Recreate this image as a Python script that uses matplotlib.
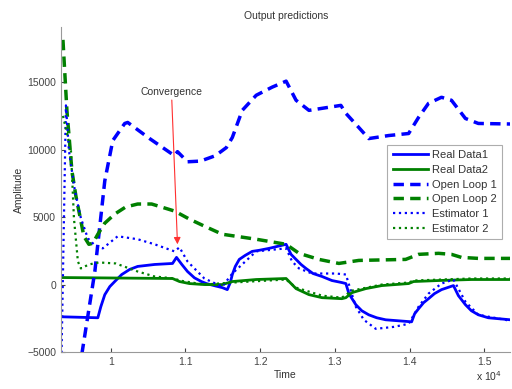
import matplotlib
matplotlib.use("Agg")
import matplotlib.pyplot as plt

plt.rcParams['font.family'] = ['Liberation Sans', 'DejaVu Sans']

# ---- data ----
ol1_t = [9613, 9787, 9920, 10027, 10187, 10227, 10520, 10853, 10893, 11027, 11200, 11400, 11547, 11627,
         11760, 11947, 12160, 12347, 12480, 12653, 12827, 13080, 13147, 13320, 13453, 13720, 13987,
         14120, 14253, 14427, 14560, 14747, 14920, 15350]
ol1_y = [-5150, 970, 7687, 10672, 11940, 12015, 10820, 9550, 9850, 9100, 9150, 9550, 10150, 10900,
         12910, 14030, 14630, 15075, 13660, 12910, 13060, 13280, 12690, 11640, 10820, 11045, 11195,
         12390, 13430, 13880, 13660, 12310, 11940, 11900]

ol2_t = [9360, 9413, 9480, 9533, 9587, 9640, 9707, 9760, 9827, 9920, 10053, 10200, 10360, 10547, 10853,
         11053, 11253, 11493, 11947, 12347, 12520, 12787, 13053, 13320, 13947, 14120, 14387, 14560,
         14693, 14920, 15350]
ol2_y = [18135, 12910, 8430, 6570, 5075, 3580, 2985, 3060, 3730, 4550, 5225, 5750, 5970, 5970, 5450,
         4850, 4330, 3730, 3360, 2985, 2315, 1865, 1567, 1790, 1865, 2240, 2315, 2240,
         2015, 1940, 1940]

rd1_t = [9360, 9827, 9867, 9920, 9987, 10053, 10147, 10253, 10360, 10587, 10827, 10880, 10950,
         11027, 11120, 11213, 11280, 11400, 11493, 11560, 11600, 11627, 11667, 11720, 11800, 11893,
         11987, 12120, 12347, 12413, 12480, 12547, 12613, 12707, 12827, 12960, 13093, 13147, 13187,
         13280, 13360, 13453, 13560, 13680, 13853, 14027, 14067, 14120, 14187, 14253, 14333, 14427,
         14587, 14653, 14747, 14827, 14920, 15053, 15350]
rd1_y = [-2390, -2460, -1640, -750, -150, 225, 745, 1120, 1345, 1490, 1565, 2015, 1500,
         970, 500, 225, 75, -100, -225, -375, 150, 745, 1345, 1865, 2165, 2460,
         2540, 2685, 2985, 2240, 1865, 1490, 1195, 820, 600, 300, 150, 75, -670,
         -1490, -1940, -2240, -2460, -2610, -2685, -2760, -2165, -1790, -1343, -1045, -670, -375,
         -75, -820, -1490, -1940, -2240, -2460, -2610]

rd2_t = [9360, 10827, 10920, 11053, 11253, 11493, 11627, 11947, 12347, 12480, 12653, 12827, 13093,
         13147, 13227, 13413, 13627, 13987, 14053, 14387, 14827, 15350]
rd2_y = [520, 450, 225, 75, 0, 0, 225, 375, 450, -300, -745, -970, -1045,
         -970, -600, -300, -75, 75, 225, 300, 375, 375]

es1_t = [9340, 9400, 9440, 9520, 9600, 9693, 9800, 9893, 9960, 10093, 10360, 10587, 10853, 10920,
         11027, 11253, 11493, 11627, 11947, 12347, 12427, 12520, 12693, 13013, 13147, 13280, 13387,
         13547, 13787, 13987, 14120, 14253, 14427, 14587, 14747, 14920, 15350]
es1_y = [-5500, 13280, 9925, 6940, 4925, 3430, 2835, 2685, 2985, 3580, 3360, 2985, 2460, 2760,
         1715, 450, -150, 820, 2460, 2685, 1715, 1195, 820, 820, 745, -1640, -2610,
         -3280, -3135, -2910, -1640, -670, 75, 375, -1270, -2240, -2685]

es2_t = [9360, 9467, 9507, 9560, 9600, 9707, 9840, 10067, 10360, 10587, 10853, 10920, 11253,
         11627, 12347, 12480, 12827, 13093, 13227, 13627, 13987, 14053, 14827, 15350]
es2_y = [12500, 9925, 4925, 1715, 1195, 1490, 1640, 1565, 970, 600, 450, 300, 0,
         150, 375, -225, -820, -970, -450, 0, 150, 300, 450, 450]

xticks = [10000, 11000, 12000, 13000, 14000, 15000]
xticklabels = ['1', '1.1', '1.2', '1.3', '1.4', '1.5']
yticks = [-5000, 0, 5000, 10000, 15000]

BLUE = (0, 0, 1)
GREEN = (0, 0.5, 0)

fig = plt.figure(figsize=(5.12, 3.89), dpi=100)
ax = fig.add_axes([0.119, 0.095, 0.878, 0.836])

ax.plot(rd1_t, rd1_y, '-', color=BLUE, lw=2.0, label='Real Data1')
ax.plot(rd2_t, rd2_y, '-', color=GREEN, lw=2.0, label='Real Data2')
ax.plot(ol1_t, ol1_y, '--', color=BLUE, lw=2.5, dashes=(3, 1.8), label='Open Loop 1')
ax.plot(ol2_t, ol2_y, '--', color=GREEN, lw=2.5, dashes=(3, 1.8), label='Open Loop 2')
ax.plot(es1_t, es1_y, ':', color=BLUE, lw=1.6, label='Estimator 1')
ax.plot(es2_t, es2_y, ':', color=GREEN, lw=1.6, label='Estimator 2')

ax.annotate('Convergence', xy=(10893, 2985), xytext=(10813, 13880),
            ha='center', va='bottom', fontsize=7.5, color='#333333',
            arrowprops=dict(arrowstyle='-|>', color='#ff3030', lw=0.8,
                            mutation_scale=10, shrinkA=0, shrinkB=0))

ax.set_xlim(9333, 15350)
ax.set_ylim(-5000, 19100)
ax.set_xticks(xticks)
ax.set_xticklabels(xticklabels)
ax.set_yticks(yticks)
ax.tick_params(direction='in', length=3, labelsize=7.5, colors='#444444')
for s in ['top', 'right']:
    ax.spines[s].set_visible(False)
for s in ['left', 'bottom']:
    ax.spines[s].set_color('#999999')

ax.set_title('Output predictions', fontsize=7.5, color='#333333', pad=6)
ax.set_xlabel('Time', fontsize=7.5, color='#333333', labelpad=2)
ax.set_ylabel('Amplitude', fontsize=7.5, color='#333333', labelpad=2)
fig.text(0.955, 0.015, r'x 10$^4$', fontsize=7.5, color='#333333', ha='center', va='bottom')

leg = ax.legend(loc='upper right', bbox_to_anchor=(0.981, 0.628),
                bbox_transform=fig.transFigure, fontsize=8, frameon=True,
                fancybox=False, edgecolor='#999999', handlelength=3.2,
                handletextpad=0.35, borderpad=0.5, labelspacing=0.42,
                borderaxespad=0)
leg.get_frame().set_linewidth(0.8)
for t in leg.get_texts():
    t.set_color('#333333')

fig.savefig('out.png', dpi=100)
